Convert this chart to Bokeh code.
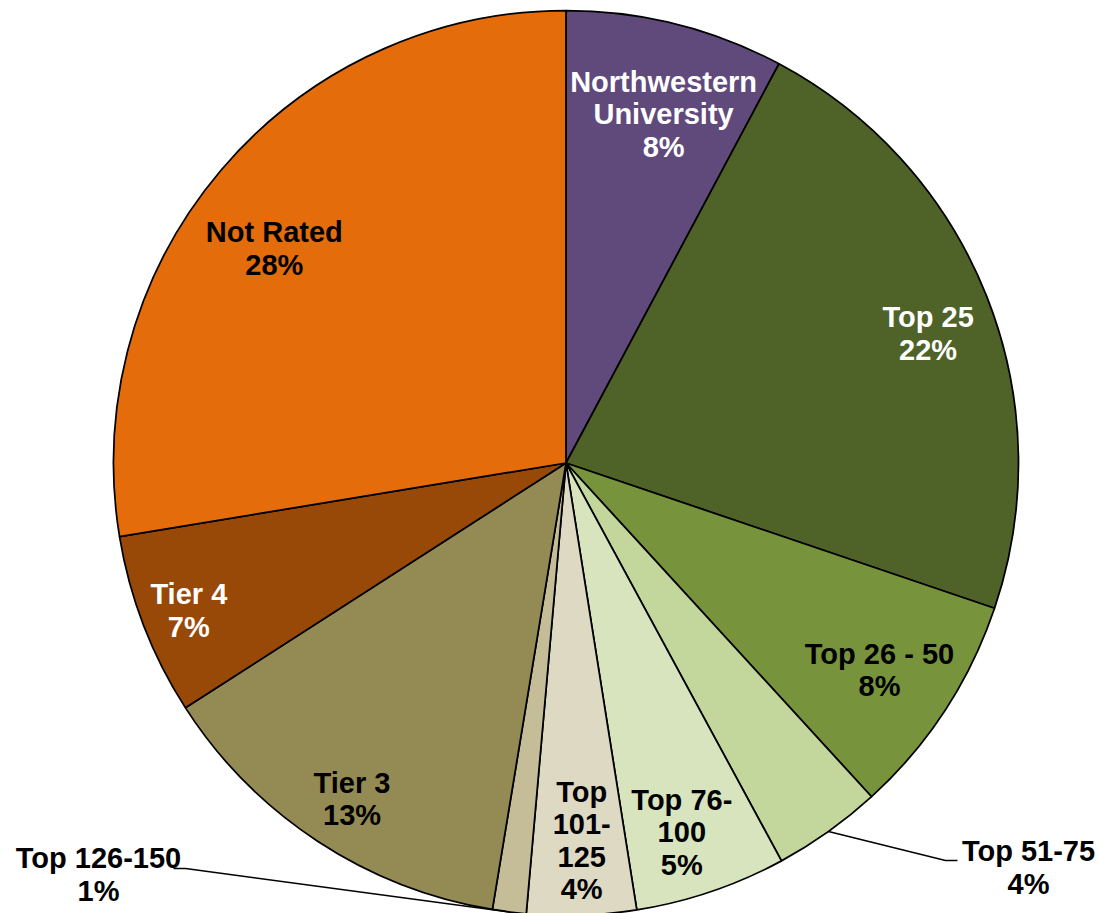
import math
from bokeh.plotting import figure
from bokeh.models import Range1d, ColumnDataSource
from bokeh.core.properties import value
from bokeh.embed import file_html
from bokeh.resources import INLINE

# ---- data ----
categories = ["Northwestern\nUniversity", "Top 25", "Top 26 - 50", "Top 51-75", "Top 76-\n100",
              "Top\n101-\n125", "Top 126-150", "Tier 3", "Tier 4", "Not Rated"]
shares = [7.8, 22.4, 8.0, 3.9, 5.4, 3.9, 1.2, 13.3, 6.5, 27.6]
pct_labels = ["8%", "22%", "8%", "4%", "5%", "4%", "1%", "13%", "7%", "28%"]
colors = ["#604A7B", "#4F6228", "#77933C", "#C3D69B", "#D7E4BD",
          "#DDD9C3", "#C4BD97", "#948A54", "#984807", "#E46C0A"]
text_colors = ["white", "white", "black", "black", "black",
               "black", "black", "black", "white", "black"]

# ---- layout (page pixel coordinates; y is negated for the plot) ----
W, H = 1099, 913
CX, CY, R = 565.5, 462.5, 452.5
# inside labels: radial fraction and angle nudge (deg) from slice middle
label_frac = [0.80, 0.85, 0.83, None, 0.855, 0.835, None, 0.88, 0.895, 0.80]
label_nudge = [1.6, 1.9, 0.3, 0, 1.3, -0.4, 0, -0.8, -0.3, -4.0]
# outside labels: (bend x, bend/end y, end x, label x, label y)
outside = {3: (945, 860, 957, 1028, 867), 6: (185, 868, 173, 98, 874)}

total = sum(shares)
cum = [0.0]
for s in shares:
    cum.append(cum[-1] + s / total * 360.0)

start_angles = [math.radians(90 - cum[i + 1]) for i in range(len(shares))]
end_angles = [math.radians(90 - cum[i]) for i in range(len(shares))]

p = figure(width=W, height=H, output_backend="svg", toolbar_location=None,
           x_range=Range1d(0, W), y_range=Range1d(-H, 0),
           min_border=0, background_fill_color="white", border_fill_color="white")
p.axis.visible = False
p.grid.visible = False
p.outline_line_color = None

src = ColumnDataSource(dict(sa=start_angles, ea=end_angles, color=colors))
p.wedge(x=CX, y=-CY, radius=R, start_angle="sa", end_angle="ea",
        fill_color="color", line_color="black", line_width=1.75, source=src)

lx, ly, lt, lc = [], [], [], []
for i in range(len(shares)):
    mid = (cum[i] + cum[i + 1]) / 2
    txt = categories[i] + "\n" + pct_labels[i]
    if i in outside:
        bx, by, ex, tx, ty = outside[i]
        a = math.radians(mid)
        sx = CX + R * math.sin(a)
        sy = CY - R * math.cos(a)
        p.line([sx, bx, ex], [-sy, -by, -by], line_color="black", line_width=1.5)
        lx.append(tx); ly.append(-ty)
    else:
        a = math.radians(mid + label_nudge[i])
        r = R * label_frac[i]
        lx.append(CX + r * math.sin(a)); ly.append(-(CY - r * math.cos(a)))
    lt.append(txt); lc.append(text_colors[i])

tsrc = ColumnDataSource(dict(x=lx, y=ly, t=lt, c=lc))
p.text(x="x", y="y", text="t", text_color="c", source=tsrc,
       text_font=value("Liberation Sans"), text_font_style="bold",
       text_font_size="29px", text_align="center", text_baseline="middle",
       text_line_height=1.02)

open("out.html", "w").write(file_html(p, INLINE))
